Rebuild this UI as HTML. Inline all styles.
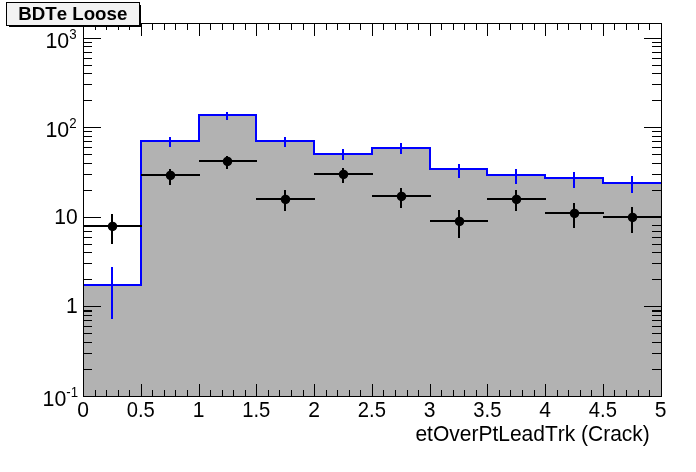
<!DOCTYPE html>
<html><head><meta charset="utf-8"><title>BDTe Loose</title>
<style>
html,body{margin:0;padding:0;background:#fff;}
body{width:696px;height:472px;overflow:hidden;}
svg{display:block;will-change:transform;}
text{font-family:"Liberation Sans", sans-serif;fill:#000;font-kerning:none;}
</style></head><body>
<svg width="696" height="472" viewBox="0 0 696 472">
<rect x="0" y="0" width="696" height="472" fill="#fff"/>
<g shape-rendering="crispEdges">
<rect x="83" y="284" width="58" height="112" fill="#b2b2b2"/>
<rect x="141" y="140" width="58" height="256" fill="#b2b2b2"/>
<rect x="199" y="114" width="57" height="282" fill="#b2b2b2"/>
<rect x="256" y="140" width="58" height="256" fill="#b2b2b2"/>
<rect x="314" y="153" width="58" height="243" fill="#b2b2b2"/>
<rect x="372" y="147" width="58" height="249" fill="#b2b2b2"/>
<rect x="430" y="168" width="57" height="228" fill="#b2b2b2"/>
<rect x="487" y="174" width="58" height="222" fill="#b2b2b2"/>
<rect x="545" y="177" width="58" height="219" fill="#b2b2b2"/>
<rect x="603" y="182" width="58" height="214" fill="#b2b2b2"/>
<rect x="83" y="284" width="59" height="2" fill="#0000ff"/>
<rect x="140" y="140" width="2" height="146" fill="#0000ff"/>
<rect x="140" y="140" width="60" height="2" fill="#0000ff"/>
<rect x="198" y="114" width="2" height="28" fill="#0000ff"/>
<rect x="198" y="114" width="59" height="2" fill="#0000ff"/>
<rect x="255" y="114" width="2" height="28" fill="#0000ff"/>
<rect x="255" y="140" width="60" height="2" fill="#0000ff"/>
<rect x="313" y="140" width="2" height="15" fill="#0000ff"/>
<rect x="313" y="153" width="60" height="2" fill="#0000ff"/>
<rect x="371" y="147" width="2" height="8" fill="#0000ff"/>
<rect x="371" y="147" width="60" height="2" fill="#0000ff"/>
<rect x="429" y="147" width="2" height="23" fill="#0000ff"/>
<rect x="429" y="168" width="59" height="2" fill="#0000ff"/>
<rect x="486" y="168" width="2" height="8" fill="#0000ff"/>
<rect x="486" y="174" width="60" height="2" fill="#0000ff"/>
<rect x="544" y="174" width="2" height="5" fill="#0000ff"/>
<rect x="544" y="177" width="60" height="2" fill="#0000ff"/>
<rect x="602" y="177" width="2" height="7" fill="#0000ff"/>
<rect x="602" y="182" width="60" height="2" fill="#0000ff"/>
<rect x="111" y="267" width="2" height="52" fill="#0000ff"/>
<rect x="169" y="137" width="2" height="10" fill="#0000ff"/>
<rect x="226" y="112" width="2" height="8" fill="#0000ff"/>
<rect x="284" y="137" width="2" height="10" fill="#0000ff"/>
<rect x="342" y="149" width="2" height="11" fill="#0000ff"/>
<rect x="400" y="143" width="2" height="11" fill="#0000ff"/>
<rect x="458" y="164" width="2" height="14" fill="#0000ff"/>
<rect x="515" y="169" width="2" height="15" fill="#0000ff"/>
<rect x="573" y="172" width="2" height="16" fill="#0000ff"/>
<rect x="631" y="176" width="2" height="17" fill="#0000ff"/>
<rect x="83" y="225" width="59" height="2" fill="#000"/>
<rect x="111" y="214" width="2" height="30" fill="#000"/>
<circle cx="112.5" cy="226.4" r="4.75" fill="#000" shape-rendering="auto"/>
<rect x="141" y="174" width="59" height="2" fill="#000"/>
<rect x="169" y="169" width="2" height="16" fill="#000"/>
<circle cx="170.5" cy="175.4" r="4.75" fill="#000" shape-rendering="auto"/>
<rect x="199" y="160" width="58" height="2" fill="#000"/>
<rect x="226" y="156" width="2" height="13" fill="#000"/>
<circle cx="227.5" cy="161.4" r="4.75" fill="#000" shape-rendering="auto"/>
<rect x="256" y="198" width="59" height="2" fill="#000"/>
<rect x="284" y="190" width="2" height="21" fill="#000"/>
<circle cx="285.5" cy="199.4" r="4.75" fill="#000" shape-rendering="auto"/>
<rect x="314" y="173" width="59" height="2" fill="#000"/>
<rect x="342" y="168" width="2" height="15" fill="#000"/>
<circle cx="343.5" cy="174.4" r="4.75" fill="#000" shape-rendering="auto"/>
<rect x="372" y="195" width="59" height="2" fill="#000"/>
<rect x="400" y="188" width="2" height="20" fill="#000"/>
<circle cx="401.5" cy="196.4" r="4.75" fill="#000" shape-rendering="auto"/>
<rect x="430" y="220" width="58" height="2" fill="#000"/>
<rect x="458" y="210" width="2" height="28" fill="#000"/>
<circle cx="459.5" cy="221.4" r="4.75" fill="#000" shape-rendering="auto"/>
<rect x="487" y="198" width="59" height="2" fill="#000"/>
<rect x="515" y="190" width="2" height="21" fill="#000"/>
<circle cx="516.5" cy="199.4" r="4.75" fill="#000" shape-rendering="auto"/>
<rect x="545" y="212" width="59" height="2" fill="#000"/>
<rect x="573" y="203" width="2" height="25" fill="#000"/>
<circle cx="574.5" cy="213.4" r="4.75" fill="#000" shape-rendering="auto"/>
<rect x="603" y="216" width="59" height="2" fill="#000"/>
<rect x="631" y="207" width="2" height="26" fill="#000"/>
<circle cx="632.5" cy="217.4" r="4.75" fill="#000" shape-rendering="auto"/>
<rect x="83" y="23" width="579" height="1" fill="#000"/>
<rect x="83" y="396" width="579" height="1" fill="#000"/>
<rect x="83" y="23" width="1" height="374" fill="#000"/>
<rect x="661" y="23" width="1" height="374" fill="#000"/>
<rect x="95" y="390" width="1" height="7" fill="#000"/>
<rect x="95" y="23" width="1" height="7" fill="#000"/>
<rect x="106" y="390" width="1" height="7" fill="#000"/>
<rect x="106" y="23" width="1" height="7" fill="#000"/>
<rect x="118" y="390" width="1" height="7" fill="#000"/>
<rect x="118" y="23" width="1" height="7" fill="#000"/>
<rect x="129" y="390" width="1" height="7" fill="#000"/>
<rect x="129" y="23" width="1" height="7" fill="#000"/>
<rect x="141" y="384" width="1" height="13" fill="#000"/>
<rect x="141" y="23" width="1" height="13" fill="#000"/>
<rect x="152" y="390" width="1" height="7" fill="#000"/>
<rect x="152" y="23" width="1" height="7" fill="#000"/>
<rect x="164" y="390" width="1" height="7" fill="#000"/>
<rect x="164" y="23" width="1" height="7" fill="#000"/>
<rect x="175" y="390" width="1" height="7" fill="#000"/>
<rect x="175" y="23" width="1" height="7" fill="#000"/>
<rect x="187" y="390" width="1" height="7" fill="#000"/>
<rect x="187" y="23" width="1" height="7" fill="#000"/>
<rect x="199" y="384" width="1" height="13" fill="#000"/>
<rect x="199" y="23" width="1" height="13" fill="#000"/>
<rect x="210" y="390" width="1" height="7" fill="#000"/>
<rect x="210" y="23" width="1" height="7" fill="#000"/>
<rect x="222" y="390" width="1" height="7" fill="#000"/>
<rect x="222" y="23" width="1" height="7" fill="#000"/>
<rect x="233" y="390" width="1" height="7" fill="#000"/>
<rect x="233" y="23" width="1" height="7" fill="#000"/>
<rect x="245" y="390" width="1" height="7" fill="#000"/>
<rect x="245" y="23" width="1" height="7" fill="#000"/>
<rect x="256" y="384" width="1" height="13" fill="#000"/>
<rect x="256" y="23" width="1" height="13" fill="#000"/>
<rect x="268" y="390" width="1" height="7" fill="#000"/>
<rect x="268" y="23" width="1" height="7" fill="#000"/>
<rect x="279" y="390" width="1" height="7" fill="#000"/>
<rect x="279" y="23" width="1" height="7" fill="#000"/>
<rect x="291" y="390" width="1" height="7" fill="#000"/>
<rect x="291" y="23" width="1" height="7" fill="#000"/>
<rect x="303" y="390" width="1" height="7" fill="#000"/>
<rect x="303" y="23" width="1" height="7" fill="#000"/>
<rect x="314" y="384" width="1" height="13" fill="#000"/>
<rect x="314" y="23" width="1" height="13" fill="#000"/>
<rect x="326" y="390" width="1" height="7" fill="#000"/>
<rect x="326" y="23" width="1" height="7" fill="#000"/>
<rect x="337" y="390" width="1" height="7" fill="#000"/>
<rect x="337" y="23" width="1" height="7" fill="#000"/>
<rect x="349" y="390" width="1" height="7" fill="#000"/>
<rect x="349" y="23" width="1" height="7" fill="#000"/>
<rect x="360" y="390" width="1" height="7" fill="#000"/>
<rect x="360" y="23" width="1" height="7" fill="#000"/>
<rect x="372" y="384" width="1" height="13" fill="#000"/>
<rect x="372" y="23" width="1" height="13" fill="#000"/>
<rect x="383" y="390" width="1" height="7" fill="#000"/>
<rect x="383" y="23" width="1" height="7" fill="#000"/>
<rect x="395" y="390" width="1" height="7" fill="#000"/>
<rect x="395" y="23" width="1" height="7" fill="#000"/>
<rect x="407" y="390" width="1" height="7" fill="#000"/>
<rect x="407" y="23" width="1" height="7" fill="#000"/>
<rect x="418" y="390" width="1" height="7" fill="#000"/>
<rect x="418" y="23" width="1" height="7" fill="#000"/>
<rect x="430" y="384" width="1" height="13" fill="#000"/>
<rect x="430" y="23" width="1" height="13" fill="#000"/>
<rect x="441" y="390" width="1" height="7" fill="#000"/>
<rect x="441" y="23" width="1" height="7" fill="#000"/>
<rect x="453" y="390" width="1" height="7" fill="#000"/>
<rect x="453" y="23" width="1" height="7" fill="#000"/>
<rect x="464" y="390" width="1" height="7" fill="#000"/>
<rect x="464" y="23" width="1" height="7" fill="#000"/>
<rect x="476" y="390" width="1" height="7" fill="#000"/>
<rect x="476" y="23" width="1" height="7" fill="#000"/>
<rect x="487" y="384" width="1" height="13" fill="#000"/>
<rect x="487" y="23" width="1" height="13" fill="#000"/>
<rect x="499" y="390" width="1" height="7" fill="#000"/>
<rect x="499" y="23" width="1" height="7" fill="#000"/>
<rect x="510" y="390" width="1" height="7" fill="#000"/>
<rect x="510" y="23" width="1" height="7" fill="#000"/>
<rect x="522" y="390" width="1" height="7" fill="#000"/>
<rect x="522" y="23" width="1" height="7" fill="#000"/>
<rect x="534" y="390" width="1" height="7" fill="#000"/>
<rect x="534" y="23" width="1" height="7" fill="#000"/>
<rect x="545" y="384" width="1" height="13" fill="#000"/>
<rect x="545" y="23" width="1" height="13" fill="#000"/>
<rect x="557" y="390" width="1" height="7" fill="#000"/>
<rect x="557" y="23" width="1" height="7" fill="#000"/>
<rect x="568" y="390" width="1" height="7" fill="#000"/>
<rect x="568" y="23" width="1" height="7" fill="#000"/>
<rect x="580" y="390" width="1" height="7" fill="#000"/>
<rect x="580" y="23" width="1" height="7" fill="#000"/>
<rect x="591" y="390" width="1" height="7" fill="#000"/>
<rect x="591" y="23" width="1" height="7" fill="#000"/>
<rect x="603" y="384" width="1" height="13" fill="#000"/>
<rect x="603" y="23" width="1" height="13" fill="#000"/>
<rect x="614" y="390" width="1" height="7" fill="#000"/>
<rect x="614" y="23" width="1" height="7" fill="#000"/>
<rect x="626" y="390" width="1" height="7" fill="#000"/>
<rect x="626" y="23" width="1" height="7" fill="#000"/>
<rect x="638" y="390" width="1" height="7" fill="#000"/>
<rect x="638" y="23" width="1" height="7" fill="#000"/>
<rect x="649" y="390" width="1" height="7" fill="#000"/>
<rect x="649" y="23" width="1" height="7" fill="#000"/>
<rect x="83" y="369" width="9" height="1" fill="#000"/>
<rect x="652" y="369" width="10" height="1" fill="#000"/>
<rect x="83" y="353" width="9" height="1" fill="#000"/>
<rect x="652" y="353" width="10" height="1" fill="#000"/>
<rect x="83" y="342" width="9" height="1" fill="#000"/>
<rect x="652" y="342" width="10" height="1" fill="#000"/>
<rect x="83" y="333" width="9" height="1" fill="#000"/>
<rect x="652" y="333" width="10" height="1" fill="#000"/>
<rect x="83" y="326" width="9" height="1" fill="#000"/>
<rect x="652" y="326" width="10" height="1" fill="#000"/>
<rect x="83" y="320" width="9" height="1" fill="#000"/>
<rect x="652" y="320" width="10" height="1" fill="#000"/>
<rect x="83" y="315" width="9" height="1" fill="#000"/>
<rect x="652" y="315" width="10" height="1" fill="#000"/>
<rect x="83" y="310" width="9" height="1" fill="#000"/>
<rect x="652" y="310" width="10" height="1" fill="#000"/>
<rect x="83" y="306" width="18" height="1" fill="#000"/>
<rect x="644" y="306" width="18" height="1" fill="#000"/>
<rect x="83" y="279" width="9" height="1" fill="#000"/>
<rect x="652" y="279" width="10" height="1" fill="#000"/>
<rect x="83" y="263" width="9" height="1" fill="#000"/>
<rect x="652" y="263" width="10" height="1" fill="#000"/>
<rect x="83" y="252" width="9" height="1" fill="#000"/>
<rect x="652" y="252" width="10" height="1" fill="#000"/>
<rect x="83" y="244" width="9" height="1" fill="#000"/>
<rect x="652" y="244" width="10" height="1" fill="#000"/>
<rect x="83" y="237" width="9" height="1" fill="#000"/>
<rect x="652" y="237" width="10" height="1" fill="#000"/>
<rect x="83" y="231" width="9" height="1" fill="#000"/>
<rect x="652" y="231" width="10" height="1" fill="#000"/>
<rect x="83" y="225" width="9" height="1" fill="#000"/>
<rect x="652" y="225" width="10" height="1" fill="#000"/>
<rect x="83" y="311" width="9" height="1" fill="#000"/>
<rect x="652" y="311" width="10" height="1" fill="#000"/>
<rect x="83" y="217" width="18" height="1" fill="#000"/>
<rect x="644" y="217" width="18" height="1" fill="#000"/>
<rect x="83" y="190" width="9" height="1" fill="#000"/>
<rect x="652" y="190" width="10" height="1" fill="#000"/>
<rect x="83" y="174" width="9" height="1" fill="#000"/>
<rect x="652" y="174" width="10" height="1" fill="#000"/>
<rect x="83" y="163" width="9" height="1" fill="#000"/>
<rect x="652" y="163" width="10" height="1" fill="#000"/>
<rect x="83" y="154" width="9" height="1" fill="#000"/>
<rect x="652" y="154" width="10" height="1" fill="#000"/>
<rect x="83" y="147" width="9" height="1" fill="#000"/>
<rect x="652" y="147" width="10" height="1" fill="#000"/>
<rect x="83" y="141" width="9" height="1" fill="#000"/>
<rect x="652" y="141" width="10" height="1" fill="#000"/>
<rect x="83" y="136" width="9" height="1" fill="#000"/>
<rect x="652" y="136" width="10" height="1" fill="#000"/>
<rect x="83" y="131" width="9" height="1" fill="#000"/>
<rect x="652" y="131" width="10" height="1" fill="#000"/>
<rect x="83" y="127" width="18" height="1" fill="#000"/>
<rect x="644" y="127" width="18" height="1" fill="#000"/>
<rect x="83" y="100" width="9" height="1" fill="#000"/>
<rect x="652" y="100" width="10" height="1" fill="#000"/>
<rect x="83" y="84" width="9" height="1" fill="#000"/>
<rect x="652" y="84" width="10" height="1" fill="#000"/>
<rect x="83" y="73" width="9" height="1" fill="#000"/>
<rect x="652" y="73" width="10" height="1" fill="#000"/>
<rect x="83" y="65" width="9" height="1" fill="#000"/>
<rect x="652" y="65" width="10" height="1" fill="#000"/>
<rect x="83" y="58" width="9" height="1" fill="#000"/>
<rect x="652" y="58" width="10" height="1" fill="#000"/>
<rect x="83" y="52" width="9" height="1" fill="#000"/>
<rect x="652" y="52" width="10" height="1" fill="#000"/>
<rect x="83" y="46" width="9" height="1" fill="#000"/>
<rect x="652" y="46" width="10" height="1" fill="#000"/>
<rect x="83" y="42" width="9" height="1" fill="#000"/>
<rect x="652" y="42" width="10" height="1" fill="#000"/>
<rect x="83" y="38" width="18" height="1" fill="#000"/>
<rect x="644" y="38" width="18" height="1" fill="#000"/>
<rect x="9" y="5" width="132" height="22" fill="#000"/>
<rect x="6" y="2" width="134" height="24" fill="#000"/>
<rect x="7" y="3" width="132" height="22" fill="#f2f2f2"/>
</g>
<g>
<text transform="translate(83.0,417) scale(0.98,1)" font-size="21.5" text-anchor="middle" font-weight="normal">0</text>
<text transform="translate(140.8,417) scale(0.94,1)" font-size="21.5" text-anchor="middle" font-weight="normal">0.5</text>
<text transform="translate(198.5,417) scale(0.98,1)" font-size="21.5" text-anchor="middle" font-weight="normal">1</text>
<text transform="translate(256.3,417) scale(0.94,1)" font-size="21.5" text-anchor="middle" font-weight="normal">1.5</text>
<text transform="translate(314.1,417) scale(0.98,1)" font-size="21.5" text-anchor="middle" font-weight="normal">2</text>
<text transform="translate(371.9,417) scale(0.94,1)" font-size="21.5" text-anchor="middle" font-weight="normal">2.5</text>
<text transform="translate(429.6,417) scale(0.98,1)" font-size="21.5" text-anchor="middle" font-weight="normal">3</text>
<text transform="translate(487.4,417) scale(0.94,1)" font-size="21.5" text-anchor="middle" font-weight="normal">3.5</text>
<text transform="translate(545.2,417) scale(0.98,1)" font-size="21.5" text-anchor="middle" font-weight="normal">4</text>
<text transform="translate(602.9,417) scale(0.94,1)" font-size="21.5" text-anchor="middle" font-weight="normal">4.5</text>
<text transform="translate(660.7,417) scale(0.98,1)" font-size="21.5" text-anchor="middle" font-weight="normal">5</text>
<text transform="translate(649.8,440.7) scale(0.963,1)" font-size="21.8" text-anchor="end" font-weight="normal">etOverPtLeadTrk (Crack)</text>
<text transform="translate(72.8,20) scale(1.05,1)" font-size="17.8" text-anchor="middle" font-weight="bold">BDTe Loose</text>
<text transform="translate(76.6,47.6) scale(0.95,1)" font-size="22.5" text-anchor="end" font-weight="normal">10<tspan font-size="14" dy="-8.9">3</tspan></text>
<text transform="translate(76.6,136.6) scale(0.95,1)" font-size="22.5" text-anchor="end" font-weight="normal">10<tspan font-size="14" dy="-8.9">2</tspan></text>
<text transform="translate(77.6,224.2) scale(0.98,1)" font-size="21.5" text-anchor="end" font-weight="normal">10</text>
<text transform="translate(77.6,312.8) scale(0.98,1)" font-size="21.5" text-anchor="end" font-weight="normal">1</text>
<text transform="translate(78.2,405.6) scale(0.95,1)" font-size="22.5" text-anchor="end" font-weight="normal">10<tspan font-size="14" dy="-8.9">-1</tspan></text>
</g>
</svg>
</body></html>
